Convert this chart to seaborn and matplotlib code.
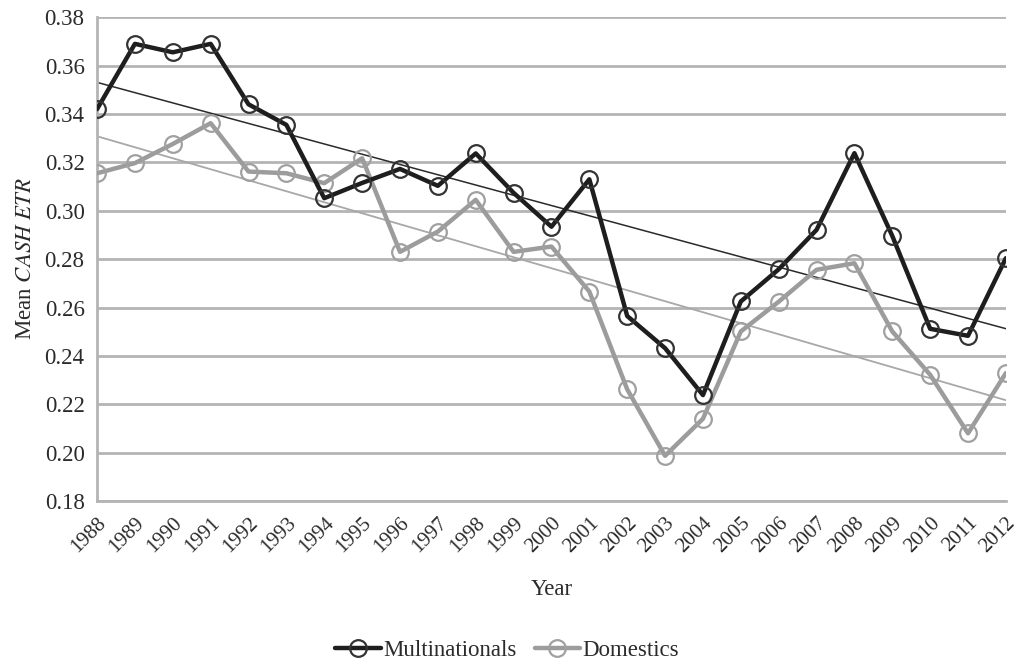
import numpy as np
import pandas as pd
import matplotlib
matplotlib.use("Agg")
import matplotlib.pyplot as plt
import seaborn as sns

# Mean CASH ETR by year
years = list(range(1988, 2013))
multinationals = [0.342, 0.369, 0.3655, 0.369, 0.344, 0.3355, 0.3052, 0.3115, 0.3173,
                  0.3103, 0.3237, 0.3074, 0.2934, 0.313, 0.2565, 0.2432, 0.2238, 0.2625,
                  0.2758, 0.2921, 0.3238, 0.2896, 0.2512, 0.2483, 0.2804]
domestics = [0.3155, 0.3197, 0.3276, 0.3362, 0.3162, 0.3155, 0.3114, 0.3217, 0.283,
             0.2914, 0.3045, 0.283, 0.2852, 0.2666, 0.2262, 0.1987, 0.2140, 0.2501,
             0.2624, 0.2756, 0.2783, 0.2501, 0.2322, 0.208, 0.2329]
y_ticks = [0.18, 0.20, 0.22, 0.24, 0.26, 0.28, 0.30, 0.32, 0.34, 0.36, 0.38]

df = pd.DataFrame({"Year": years, "Multinationals": multinationals, "Domestics": domestics})

sns.set_style("white")
plt.rcParams["font.family"] = ["Liberation Serif", "DejaVu Serif"]
plt.rcParams["mathtext.fontset"] = "stix"
plt.rcParams["text.color"] = "#2b2b2b"
plt.rcParams["axes.labelcolor"] = "#2b2b2b"
plt.rcParams["xtick.labelcolor"] = "#2b2b2b"
plt.rcParams["ytick.labelcolor"] = "#2b2b2b"

fig, ax = plt.subplots(figsize=(10.14, 6.63), dpi=100)
fig.subplots_adjust(left=0.0957, right=0.992, top=0.974, bottom=0.2443)

grid_c = "#b4b4b4"
for t in y_ticks:
    ax.axhline(t, color=grid_c, lw=2, zorder=0)

# linear trend lines
sns.regplot(data=df, x="Year", y="Multinationals", scatter=False, ci=None, ax=ax,
            line_kws=dict(color="#2a2a2a", lw=1.1, zorder=2))
sns.regplot(data=df, x="Year", y="Domestics", scatter=False, ci=None, ax=ax,
            line_kws=dict(color="#a8a8a8", lw=1.3, zorder=2))

sns.lineplot(data=df, x="Year", y="Domestics", ax=ax, color="#9c9c9c", lw=3.2,
             marker="o", markersize=12, markerfacecolor="none", markeredgecolor="#a0a0a0",
             markeredgewidth=1.6, label="Domestics", zorder=3)
sns.lineplot(data=df, x="Year", y="Multinationals", ax=ax, color="#1e1e1e", lw=3.2,
             marker="o", markersize=12, markerfacecolor="none", markeredgecolor="#333333",
             markeredgewidth=1.6, label="Multinationals", zorder=4)

ax.set_xlim(years[0], years[-1])
ax.set_ylim(0.18, 0.38)
ax.set_xticks(years)
ax.set_xticklabels([str(y) for y in years], rotation=45, ha="right", rotation_mode="anchor",
                   fontsize=15)
ax.set_yticks(y_ticks)
ax.set_yticklabels([f"{t:.2f}" for t in y_ticks], fontsize=16.5)
ax.tick_params(axis="both", length=6, width=1.5, color=grid_c, direction="out", pad=3)
ax.tick_params(axis="x", pad=3)

for s in ["top", "right"]:
    ax.spines[s].set_visible(False)
for s in ["left", "bottom"]:
    ax.spines[s].set_color(grid_c)
    ax.spines[s].set_linewidth(2)

ax.set_xlabel("Year", fontsize=16.5, labelpad=16)
ax.set_ylabel(r"Mean $\mathit{CASH\ ETR}$", fontsize=16.5, labelpad=6)

handles, labels = ax.get_legend_handles_labels()
order = [labels.index("Multinationals"), labels.index("Domestics")]
ax.legend([handles[i] for i in order], [labels[i] for i in order],
          loc="lower center", bbox_to_anchor=(0.5, -0.028), bbox_transform=fig.transFigure,
          ncol=2, frameon=False, fontsize=16.5, handlelength=2.0, handletextpad=0.1,
          columnspacing=0.8)

fig.savefig("out.png", dpi=100)
